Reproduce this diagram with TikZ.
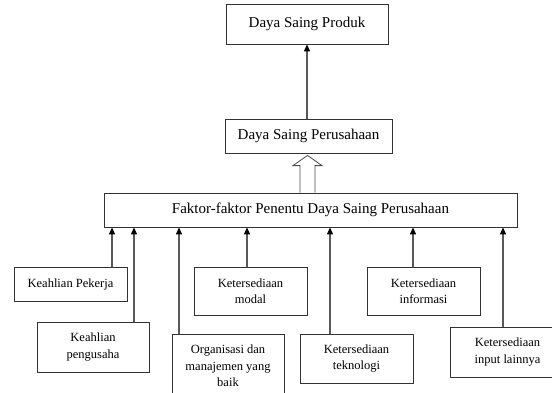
\documentclass[tikz,border=0pt]{standalone}
\usepackage{fontspec}
\setmainfont{Liberation Serif}
\usetikzlibrary{arrows.meta,calc}
\begin{document}
\begin{tikzpicture}[x=1pt,y=-1pt,
  box/.style={draw=black!80, line width=0.8pt, inner sep=0pt, align=center, font=\fontsize{12.5}{16.5}\selectfont},
  bigbox/.style={draw=black!80, line width=0.8pt, inner sep=0pt, align=center, font=\fontsize{15}{17}\selectfont},
  arr/.style={draw=black!65, line width=1.2pt, -{Triangle[width=6pt,length=7pt,color=black]}},
]
\useasboundingbox (0,0) rectangle (552,392);
\clip (0,0) rectangle (552,392);
\node[bigbox, minimum width=162pt, minimum height=40pt] (prod) at (307,24) {Daya Saing Produk};
\node[bigbox, minimum width=167pt, minimum height=34pt] (per) at (308.5,136) {Daya Saing Perusahaan};
\node[bigbox, minimum width=413pt, minimum height=34pt] (faktor) at (310.5,210) {Faktor-faktor Penentu Daya Saing Perusahaan};
\node[box, minimum width=113pt, minimum height=34pt] (kp) at (70.5,284) {Keahlian Pekerja};
\node[box, minimum width=112pt, minimum height=50pt] (kpg) at (93,347) {Keahlian\\pengusaha};
\node[box, minimum width=112pt, minimum height=64pt] (org) at (228,366) {Organisasi dan\\manajemen yang\\baik};
\node[box, minimum width=113pt, minimum height=48pt] (modal) at (250.5,291) {Ketersediaan\\modal};
\node[box, minimum width=113pt, minimum height=49pt] (tek) at (356.5,358.5) {Ketersediaan\\teknologi};
\node[box, minimum width=113pt, minimum height=48pt] (info) at (423.5,291) {Ketersediaan\\informasi};
\node[box, minimum width=115pt, minimum height=50pt] (inp) at (507.5,352) {Ketersediaan\\input lainnya};
% arrows
\draw[arr] (per.north -| prod.south) -- (prod.south);
\coordinate (xa) at (112,0);
\coordinate (xb) at (134,0);
\coordinate (xc) at (179,0);
\coordinate (xd) at (247,0);
\coordinate (xe) at (330,0);
\coordinate (xf) at (413,0);
\coordinate (xg) at (503,0);
\draw[arr] (xa |- kp.north) -- (xa |- faktor.south);
\draw[arr] (xb |- kpg.north) -- (xb |- faktor.south);
\draw[arr] (xc |- org.north) -- (xc |- faktor.south);
\draw[arr] (xd |- modal.north) -- (xd |- faktor.south);
\draw[arr] (xe |- tek.north) -- (xe |- faktor.south);
\draw[arr] (xf |- info.north) -- (xf |- faktor.south);
\draw[arr] (xg |- inp.north) -- (xg |- faktor.south);
% hollow arrow
\coordinate (hb) at (307.5,0);
\coordinate (hbase) at (hb |- faktor.north);
\draw[black!70, line width=0.8pt, fill=white]
  ($(hbase)+(-7.5,0)$) -- ($(hbase)+(-7.5,-27)$) -- ($(hbase)+(-14.5,-27)$)
  -- ($(hb |- per.south)+(0,2)$)
  -- ($(hbase)+(14.5,-27)$) -- ($(hbase)+(7.5,-27)$) -- ($(hbase)+(7.5,0)$);
\end{tikzpicture}
\end{document}
